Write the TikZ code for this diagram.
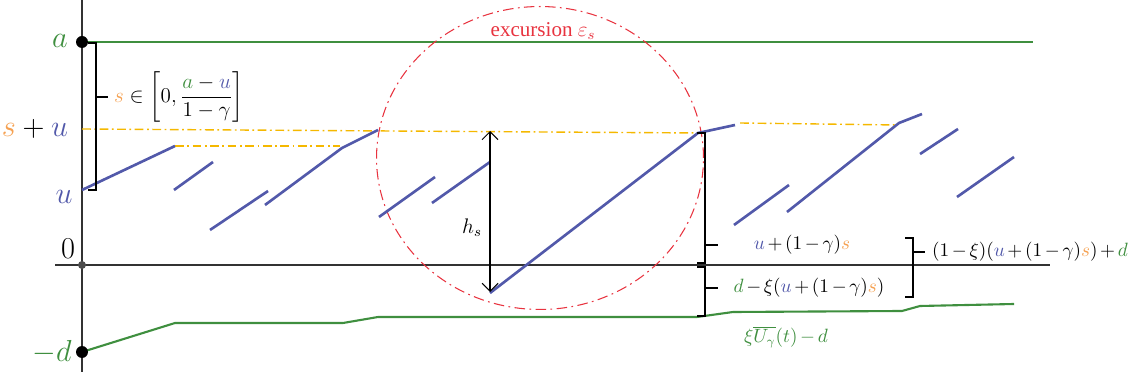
\documentclass[tikz,border=0pt]{standalone}
\usepackage{amsmath,amssymb}
\usepackage{fontspec}
\setmainfont{Liberation Serif}
\usepackage{xcolor}
\usepackage{tikz}
\usetikzlibrary{calc,arrows.meta,positioning}
\definecolor{pathc}{HTML}{5259AA}
\definecolor{barc}{HTML}{3F8F3F}
\definecolor{sc}{HTML}{F5A050}
\definecolor{levc}{HTML}{F5B800}
\definecolor{excc}{HTML}{E8333F}
\tikzset{
  ax/.style={line width=0.75pt,black!80},
  pth/.style={line width=1.5pt,pathc},
  bar/.style={line width=1.2pt,barc},
  lev/.style={line width=0.8pt,levc,dash pattern=on 5pt off 2pt on 1pt off 2pt},
  brk/.style={line width=0.6pt,black},
  dot/.style={circle,fill=black,minimum size=0.24cm,inner sep=0pt},
  lab/.style={font=\fontsize{16}{18}\selectfont,inner sep=1pt},
  txt/.style={font=\fontsize{12}{14}\selectfont,inner sep=1pt},
  mth/.style={font={\fontsize{10.5}{12}\selectfont\medmuskip=2.5mu},inner sep=1pt}
}
\begin{document}
\begin{tikzpicture}[x=0.02cm,y=-0.02cm]
\useasboundingbox (0,0) rectangle (1131,377);
% axes
\draw[ax] (82,0) -- (82,372);
\draw[ax] (55,265) -- (1050,265);
% levels a and s+u
\draw[bar] (82,42) -- (1033,42);
\draw[lev] (82,129) -- (700,133);
\draw[lev] (740,123) -- (898,125);
\draw[lev] (175,146) -- (340,146);
% excursion
\draw[excc,line width=0.6pt,dash pattern=on 6pt off 2.5pt on 1pt off 2.5pt] (540,158) ellipse (3.27cm and 3.03cm);
\node[txt,excc] (exc) at (543,31) {excursion $\varepsilon_s$};
% sample path
\draw[pth] (82,190) -- (175,146);
\draw[pth] (174,190) -- (213,162);
\draw[pth] (210,230) -- (268,191);
\draw[pth] (265,205) -- (342,148) -- (378,130);
\draw[pth] (379,217) -- (435,177);
\draw[pth] (432,203) -- (490,162);
\draw[pth] (490,293) -- (698,133) -- (735,125);
\draw[pth] (734,225) -- (789,185);
\draw[pth] (787,212) -- (899,123) -- (922,114);
\draw[pth] (920,154) -- (958,129);
\draw[pth] (957,197) -- (1014,157);
% lower barrier
\draw[bar] (82,352) -- (175,323) -- (343,323) -- (378,317) -- (697,317)
  -- (733,312) -- (902,311) -- (920,306) -- (1014,304);
% dots
\node[dot] (pa) at (82,42) {};
\node[dot,fill=black!70,minimum size=0.16cm] (po) at (82,265) {};
\node[dot] (pd) at (82,352) {};
% axis labels
\node[lab,barc] (la) at (60,41) {$a$};
\node[lab] (lsu) at (35,129) {$\textcolor{sc}{s}+\textcolor{pathc}{u}$};
\node[lab,pathc] (lu) at (64,197) {$u$};
\node[lab] (lo) at (68,249) {$0$};
\node[lab,barc] (ld) at (52,352) {$-d$};
% range of s
\draw[brk] (88,43) -- (96,43) -- (96,190) -- (88,190);
\draw[brk] (96,97) -- (108,97);
\node[txt,anchor=west] (srange) at (112,97)
  {$\textcolor{sc}{s}\in\left[0,\dfrac{\textcolor{barc}{a}-\textcolor{pathc}{u}}{1-\gamma}\right]$};
% height of excursion
\coordinate (htop) at (490,131);
\coordinate (hbot) at (490,292);
\draw[brk,{Straight Barb[length=1.6mm]}-{Straight Barb[length=1.6mm]}] (htop) -- (hbot);
\node[txt] (hs) at (472,228) {$h_s$};
% right brackets
\draw[brk] (697,133) -- (705,133) -- (705,263) -- (697,263);
\draw[brk] (705,245) -- (718,245);
\draw[brk] (697,267) -- (705,267) -- (705,316) -- (697,316);
\draw[brk] (705,288) -- (718,288);
\node[mth] (lup) at (802,245) {$\textcolor{pathc}{u}+(1-\gamma)\textcolor{sc}{s}$};
\node[mth] (llow) at (809,288) {$\textcolor{barc}{d}-\xi(\textcolor{pathc}{u}+(1-\gamma)\textcolor{sc}{s})$};
\draw[brk] (905,238) -- (913,238) -- (913,297) -- (905,297);
\draw[brk] (913,252) -- (925,252);
\node[mth,anchor=west] (lsum) at (930,252)
  {$(1-\xi)(\textcolor{pathc}{u}+(1-\gamma)\textcolor{sc}{s})+\textcolor{barc}{d}$};
\node[mth,barc] (lbar) at (786,337) {$\xi\overline{U_\gamma}(t)-d$};
\end{tikzpicture}
\end{document}
